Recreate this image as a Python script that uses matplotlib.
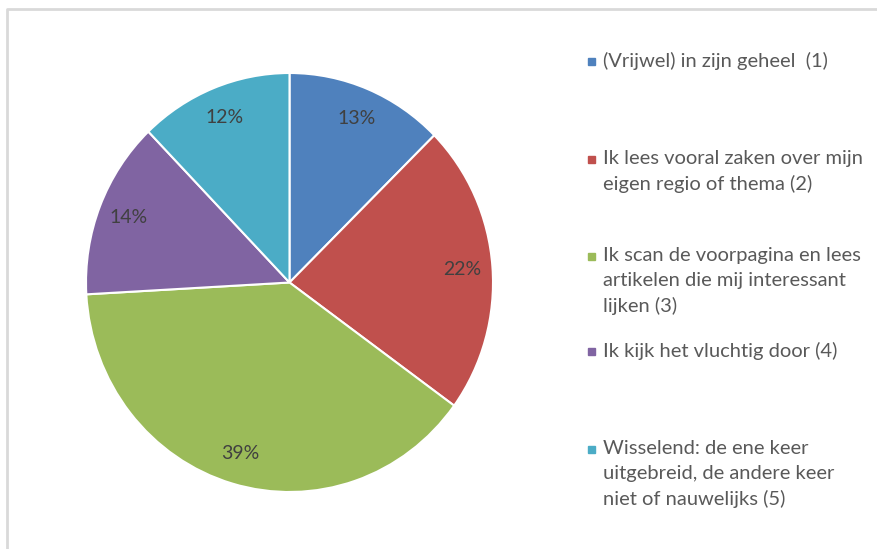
import matplotlib.pyplot as plt
from matplotlib.patches import Rectangle

# reading habits - share of respondents
categories = [
    "(Vrijwel) in zijn geheel  (1)",
    "Ik lees vooral zaken over mijn\neigen regio of thema (2)",
    "Ik scan de voorpagina en lees\nartikelen die mij interessant\nlijken (3)",
    "Ik kijk het vluchtig door (4)",
    "Wisselend: de ene keer\nuitgebreid, de andere keer\nniet of nauwelijks (5)",
]
shares = [12.6, 22.4, 39.1, 13.7, 12.2]
colors = ["#4F81BD", "#C0504D", "#9BBB59", "#8064A2", "#4BACC6"]

W, H = 878, 549
fig = plt.figure(figsize=(W / 100, H / 100), dpi=100)
plt.rcParams["font.family"] = ["Lato", "DejaVu Sans"]

# pie axes, placed in pixel terms
cx, cy, rx, ry = 289.5, 282.5, 203.5, 209.5
ax = fig.add_axes([(cx - rx) / W, (H - cy - ry) / H, 2 * rx / W, 2 * ry / H])
wedges, texts, autotexts = ax.pie(
    shares, colors=colors, startangle=90, counterclock=False,
    autopct="%.0f%%", pctdistance=0.85,
    wedgeprops=dict(edgecolor="white", linewidth=1.5),
    textprops=dict(color="#404040", fontsize=14),
)
ax.set_aspect("auto")
ax.set_xlim(-1, 1)
ax.set_ylim(-1, 1)

# overlay for border and legend
ov = fig.add_axes([0, 0, 1, 1], zorder=-1)
ov.set_xlim(0, W)
ov.set_ylim(H, 0)
ov.axis("off")
ov.plot([7, 7, W], [H, 9, 9], color="#D9D9D9", lw=2, solid_capstyle="butt")

leg = fig.add_axes([0, 0, 1, 1])
leg.set_xlim(0, W)
leg.set_ylim(H, 0)
leg.axis("off")
first_line = [62, 160, 257, 352, 450]
for i, (lab, c) in enumerate(zip(categories, colors)):
    y0 = first_line[i]
    leg.add_patch(Rectangle((588, y0 - 4), 7, 7, color=c))
    leg.text(603, y0 - 10, lab, color="#595959", fontsize=14.5,
             va="top", ha="left", linespacing=1.55)

fig.savefig("out.png", dpi=100)
